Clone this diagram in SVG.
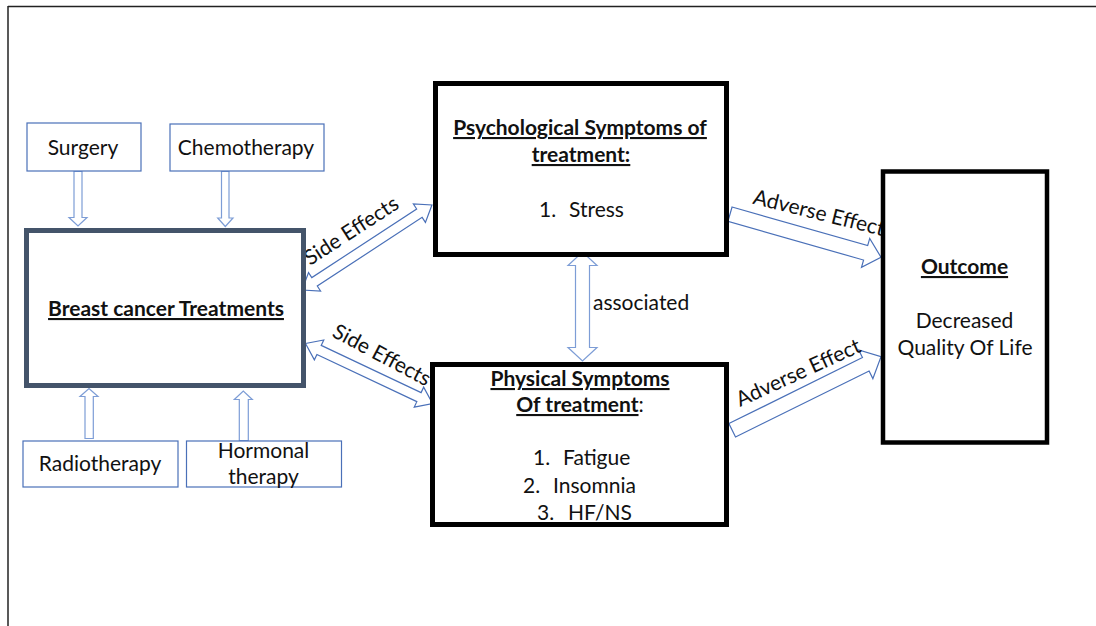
<svg xmlns="http://www.w3.org/2000/svg" width="1096" height="626" viewBox="0 0 1096 626">
  <style>
    .t { font-family: Lato, "Liberation Sans", sans-serif; font-size: 21px; fill: #111; }
    .b { font-weight: bold; text-decoration: underline; }
    .mid { text-anchor: middle; }
    .small { fill: #fff; stroke: #4A70B8; stroke-width: 1.2; }
    .main { fill: #fff; stroke: #000; stroke-width: 5; }
    .arrow { fill: #fff; stroke: #4A70B8; stroke-width: 1.2; stroke-linejoin: miter; }
    .arrow-lt { fill: #fff; stroke: #7D9DD6; stroke-width: 1.2; }
  </style>

  <!-- page frame -->
  <g id="frame" stroke="#222" stroke-width="1.5" fill="none">
    <line x1="8" y1="6.5" x2="1096" y2="6.5"/>
    <line x1="8" y1="6" x2="8" y2="626"/>
  </g>

  <!-- connectors -->
  <g id="connectors">
    <!-- treatment inputs -->
    <polygon class="arrow-lt" points="74,171.5 82,171.5 82,217.5 87,217.5 78,226 69,217.5 74,217.5"/>
    <polygon class="arrow-lt" points="221.5,171.5 229,171.5 229,218 233,218 225.3,226.5 217.7,218 221.5,218"/>
    <polygon class="arrow-lt" points="85,438.5 93.3,438.5 93.3,396.5 98,396.5 89,388.5 80,396.5 85,396.5"/>
    <polygon class="arrow-lt" points="239.3,440.5 248.3,440.5 248.3,399.5 252.3,399.5 243.3,391 234.3,399.5 239.3,399.5"/>

    <!-- side effects (double) -->
    <polygon class="arrow" transform="translate(302,290) rotate(-33.2)"
             points="0,0 15,-11 15,-5 140.3,-5 140.3,-11 155.3,0 140.3,11 140.3,5 15,5 15,11"/>
    <polygon class="arrow" transform="translate(305.5,343.5) rotate(25.3)"
             points="0,0 15,-11 15,-5 125.5,-5 125.5,-11 140.5,0 125.5,11 125.5,5 15,5 15,11"/>

    <!-- associated (double, vertical) -->
    <polygon class="arrow-lt" transform="translate(582.5,252) rotate(90)"
             points="0,0 13.5,-14.5 13.5,-7 95.5,-7 95.5,-14.5 109,0 95.5,14.5 95.5,7 13.5,7 13.5,14.5"/>

    <!-- adverse effects -->
    <polygon class="arrow" transform="translate(730,214.2) rotate(15.9)"
             points="0,-7.5 141,-7.5 141,-15 157,0 141,15 141,7.5 0,7.5"/>
    <polygon class="arrow" transform="translate(732.2,430.3) rotate(-26.3)"
             points="0,-7.5 149,-7.5 149,-16 166,0 149,16 149,7.5 0,7.5"/>

    <!-- connector labels -->
    <text class="t" transform="translate(310,266) rotate(-33)">Side Effects</text>
    <text class="t" transform="translate(331,336) rotate(28)">Side Effects</text>
    <text class="t" x="593" y="310">associated</text>
    <text class="t" transform="translate(752,203.5) rotate(14)">Adverse Effect</text>
    <text class="t" transform="translate(740,407) rotate(-24.5)">Adverse Effect</text>
  </g>

  <g id="surgery">
    <rect class="small" x="27" y="123" width="114" height="48"/>
    <text class="t mid" x="83" y="155">Surgery</text>
  </g>
  <g id="chemotherapy">
    <rect class="small" x="170" y="124" width="154" height="47"/>
    <text class="t mid" x="246" y="155">Chemotherapy</text>
  </g>
  <g id="radiotherapy">
    <rect class="small" x="23" y="441" width="155" height="46"/>
    <text class="t mid" x="100" y="471">Radiotherapy</text>
  </g>
  <g id="hormonal">
    <rect class="small" x="186.5" y="441" width="155" height="46"/>
    <text class="t mid" x="263.5" y="458">Hormonal</text>
    <text class="t mid" x="263.5" y="484">therapy</text>
  </g>

  <g id="treatments">
    <rect x="26.5" y="230.5" width="277" height="155" fill="#fff" stroke="#44546A" stroke-width="5"/>
    <text class="t b mid" x="166" y="316">Breast cancer Treatments</text>
  </g>

  <g id="psychological">
    <rect class="main" x="435.5" y="83.5" width="291" height="171"/>
    <text class="t b mid" x="580" y="135">Psychological Symptoms of</text>
    <text class="t b mid" x="581" y="162">treatment:</text>
    <text class="t" x="539" y="217">1.</text>
    <text class="t" x="569" y="217">Stress</text>
  </g>

  <g id="physical">
    <rect class="main" x="432.5" y="364.5" width="294" height="160"/>
    <text class="t b mid" x="580" y="386">Physical Symptoms</text>
    <text class="t mid" x="580" y="412"><tspan class="b">Of treatment</tspan>:</text>
    <text class="t" x="533" y="465">1.</text>
    <text class="t" x="563" y="465">Fatigue</text>
    <text class="t" x="523" y="492.5">2.</text>
    <text class="t" x="553" y="492.5">Insomnia</text>
    <text class="t" x="537" y="520">3.</text>
    <text class="t" x="568" y="520">HF/NS</text>
  </g>

  <g id="outcome">
    <rect x="883" y="171.5" width="164" height="271" fill="#fff" stroke="#000" stroke-width="4.5"/>
    <text class="t b mid" x="964.5" y="274">Outcome</text>
    <text class="t mid" x="964.5" y="328">Decreased</text>
    <text class="t mid" x="965" y="355">Quality Of Life</text>
  </g>
</svg>
